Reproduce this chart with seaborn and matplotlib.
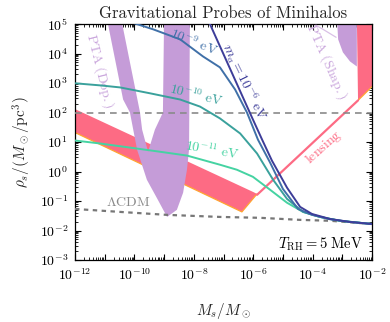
import numpy as np
import pandas as pd
import matplotlib
matplotlib.use("Agg")
import matplotlib.pyplot as plt
import seaborn as sns
from matplotlib.ticker import FixedLocator, LogLocator, FuncFormatter, NullFormatter

# all values are log10(M_s / M_sun) and log10(rho_s / (M_sun/pc^3))

# axion minihalo curves
logM_m6 = [-7.56, -6.04, -5.70, -5.37, -4.86, -4.42, -4.02, -3.41, -2.74, -2.00]
logR_m6 = [5.23, 1.83, 1.08, 0.37, -0.55, -1.20, -1.44, -1.61, -1.71, -1.78]

logM_m9 = [-10.42, -9.37, -8.46, -7.69, -7.12, -6.61, -6.21, -5.84, -5.43, -5.00, -4.49, -4.02, -3.41, -2.74, -2.00]
logR_m9 = [5.16, 4.82, 4.48, 3.90, 3.53, 2.78, 2.00, 1.08, 0.30, -0.59, -1.27, -1.47, -1.62, -1.71, -1.78]

logM_m10 = [-12.0, -11.16, -10.48, -9.47, -8.46, -7.79, -7.12, -6.44, -5.87, -5.33, -4.86, -4.32, -3.75, -3.08, -2.00]
logR_m10 = [2.99, 2.92, 2.85, 2.65, 2.44, 2.20, 1.80, 1.29, 0.61, -0.28, -0.93, -1.37, -1.54, -1.67, -1.78]

logM_m11 = [-12.0, -11.16, -10.15, -9.14, -8.23, -7.12, -6.55, -6.01, -5.43, -4.86, -4.32, -3.75, -3.08, -2.00]
logR_m11 = [1.05, 0.95, 0.81, 0.67, 0.54, 0.23, 0.06, -0.18, -0.62, -1.06, -1.37, -1.54, -1.67, -1.78]

# LambdaCDM expectation
logM_lcdm = [-12.0, -10.48, -8.90, -7.12, -5.77, -4.42, -3.41, -2.00]
logR_lcdm = [-1.27, -1.37, -1.47, -1.54, -1.57, -1.64, -1.67, -1.78]

# PTA Doppler region (outer edge down, inner edge back up)
logM_pta_dop = [-10.93, -10.38, -10.15, -9.91, -9.58, -9.21, -8.90, -8.57, -8.36, -8.23, -8.16, -8.13,
                -9.00, -9.04, -9.31, -9.54, -9.74, -9.81, -10.45]
logR_pta_dop = [5.20, 2.44, 2.00, 0.74, -0.28, -0.96, -1.54, -1.30, -0.72, 0.06, 0.74, 5.20,
                5.20, 2.00, 1.42, 0.67, 1.42, 2.00, 5.20]

# PTA Shapiro region
logM_pta_shap = [-3.18, -2.51, -2.51, -2.74, -2.98, -3.14]
logR_pta_shap = [5.20, 5.20, 3.56, 3.73, 4.04, 4.48]
logM_shap_arc = [-4.02, -3.65, -3.21]
logR_shap_arc = [5.03, 4.82, 4.55]

# lensing: band at low mass, thin line, band at high mass
logM_lens_band = [-12.5, -6.01, -5.87, -6.38, -12.5]
logR_lens_band = [2.35, -0.69, -0.76, -1.37, 1.56]
logM_lens_line = [-5.87, -2.47]
logR_lens_line = [-0.79, 2.41]
logM_lens_hi = [-2.51, -2.00, -2.00, -2.47]
logR_lens_hi = [5.20, 5.20, 2.88, 2.41]

rho_pta_sens = 2.0  # horizontal dashed reference level

INDIGO = "#3d3d99"
BLUE = "#4070a8"
TEAL = "#3aa19c"
GREEN = "#45d3a2"
PINK = "#fd6b84"
ORANGE = "#ffa531"
PURPLE = "#c59cd8"
GRAY = "#8a8a8a"

sns.set_theme(style="ticks")
plt.rcParams["font.family"] = "serif"
plt.rcParams["font.serif"] = ["cmr10", "DejaVu Serif"]
plt.rcParams["mathtext.fontset"] = "cm"
plt.rcParams["axes.formatter.use_mathtext"] = True
plt.rcParams["axes.unicode_minus"] = False

fig = plt.figure(figsize=(3.9, 3.22), dpi=100)
ax = fig.add_axes([75 / 390, 1 - 260 / 322, 297 / 390, 236 / 322])


def p(v):
    return 10.0 ** np.asarray(v)


# filled regions
ax.fill(p(logM_lens_band), p(logR_lens_band), color=PINK, lw=0, zorder=1)
ax.plot(p([-12.5, -6.38, -5.87]), p([1.56, -1.37, -0.76]), color=ORANGE, lw=0.9, zorder=1.5)
ax.fill(p(logM_lens_hi), p(logR_lens_hi), color=PINK, lw=0, zorder=1)
ax.plot(p([-2.00, -2.47]), p([2.88, 2.41]), color=ORANGE, lw=0.9, zorder=1.5)
ax.plot(p(logM_lens_line), p(logR_lens_line), color=PINK, lw=1.6, zorder=1.5)

ax.fill(p(logM_pta_dop), p(logR_pta_dop), color=PURPLE, lw=0, zorder=2)
ax.fill(p(logM_pta_shap), p(logR_pta_shap), color=PURPLE, lw=0, zorder=2)
ax.plot(p(logM_shap_arc), p(logR_shap_arc), color="#d9c0e6", lw=0.9, zorder=2)

# reference lines
ax.axhline(10.0 ** rho_pta_sens, color=GRAY, ls=(0, (4, 3)), lw=1.2, zorder=3)
sns.lineplot(x=p(logM_lcdm), y=p(logR_lcdm), ax=ax, color="#777777", lw=1.6,
             linestyle=(0, (2, 2)), estimator=None, sort=False, zorder=3)

# axion mass curves
curves = [
    (logM_m11, logR_m11, GREEN),
    (logM_m10, logR_m10, TEAL),
    (logM_m9, logR_m9, BLUE),
    (logM_m6, logR_m6, INDIGO),
]
for lm, lr, c in curves:
    sns.lineplot(x=p(lm), y=p(lr), ax=ax, color=c, lw=1.4, estimator=None, sort=False, zorder=4)

ax.set(xscale="log", yscale="log", xlim=(1e-12, 1e-2), ylim=(1e-3, 1e5))

# labels on the plot
fs = 10
ax.text(p(-11.15), p(3.40), r"$\mathrm{PTA\ (Dop.)}$", color="#c9a5dc", fontsize=fs,
        rotation=-76, ha="center", va="center")
ax.text(p(-3.52), p(3.73), r"$\mathrm{PTA\ (Shap.)}$", color="#c9a5dc", fontsize=fs,
        rotation=-66, ha="center", va="center")
ax.text(p(-6.30), p(3.05), r"$m_a = 10^{-6}\ \mathrm{eV}$", color=INDIGO, fontsize=fs,
        rotation=-64, ha="center", va="center")
ax.text(p(-8.00), p(4.40), r"$10^{-9}\ \mathrm{eV}$", color=BLUE, fontsize=fs,
        rotation=-22, ha="center", va="center")
ax.text(p(-7.93), p(2.58), r"$10^{-10}\ \mathrm{eV}$", color=TEAL, fontsize=fs,
        rotation=-14, ha="center", va="center")
ax.text(p(-7.39), p(0.73), r"$10^{-11}\ \mathrm{eV}$", color=GREEN, fontsize=fs,
        rotation=-10, ha="center", va="center")
ax.text(p(-3.65), p(0.81), r"$\mathrm{lensing}$", color=PINK, fontsize=fs,
        rotation=42, ha="center", va="center")
ax.text(p(-10.22), p(-1.06), r"$\Lambda\mathrm{CDM}$", color=GRAY, fontsize=fs,
        ha="center", va="center")
ax.text(p(-2.30), p(-2.46), r"$T_{\rm RH} = 5\ \mathrm{MeV}$", color="black", fontsize=10.5,
        ha="right", va="center")

# ticks
ax.xaxis.set_major_locator(FixedLocator(10.0 ** np.arange(-12, -1)))
ax.xaxis.set_major_formatter(FuncFormatter(
    lambda v, pos: rf"$10^{{{int(round(np.log10(v)))}}}$" if int(round(np.log10(v))) % 2 == 0 else ""))
ax.yaxis.set_major_locator(FixedLocator(10.0 ** np.arange(-3, 6)))
ax.yaxis.set_major_formatter(FuncFormatter(lambda v, pos: rf"$10^{{{int(round(np.log10(v)))}}}$"))
for axis in (ax.xaxis, ax.yaxis):
    axis.set_minor_locator(LogLocator(base=10, subs=np.arange(2, 10), numticks=100))
    axis.set_minor_formatter(NullFormatter())
ax.tick_params(which="both", direction="in", top=True, right=True, colors="black", labelsize=10)
ax.tick_params(which="major", length=4, width=0.8, pad=5)
ax.tick_params(which="minor", length=2, width=0.6)
for s in ax.spines.values():
    s.set_color("black")
    s.set_linewidth(0.9)

ax.set_xlabel(r"$M_s/M_\odot$", fontsize=11, labelpad=13)
ax.set_ylabel(r"$\rho_s/(M_\odot/\mathrm{pc}^3)$", fontsize=11, labelpad=5)
ax.set_title("Gravitational Probes of Minihalos", fontsize=12, pad=4)

fig.savefig("out.png", dpi=100)
